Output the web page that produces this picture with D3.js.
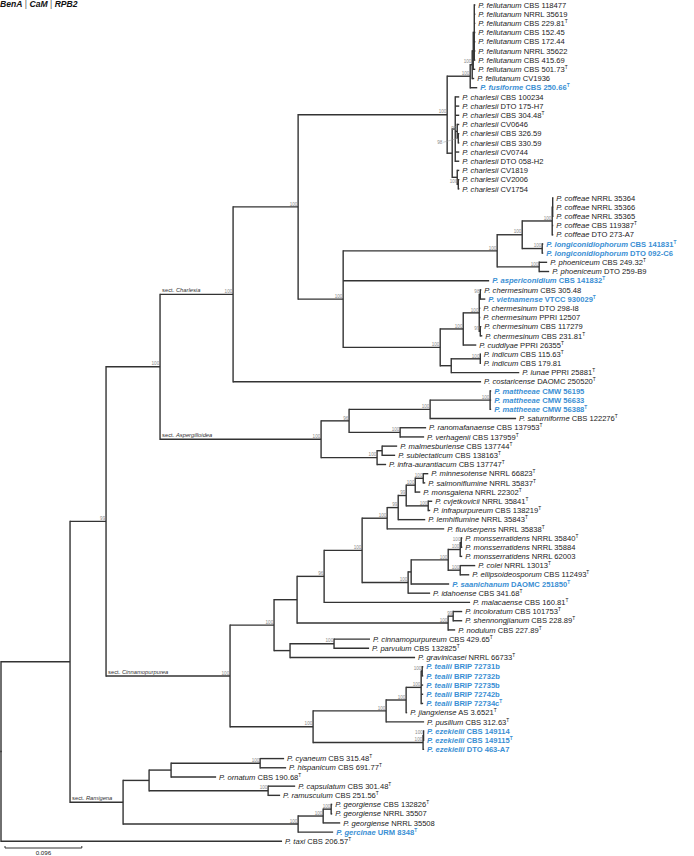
<!DOCTYPE html>
<html><head><meta charset="utf-8">
<script src="https://cdn.jsdelivr.net/npm/d3@7"></script>
<style>body{margin:0;background:#fff}svg{display:block}text{font-family:"Liberation Sans",Arial,sans-serif}</style>
</head><body><svg id="c" width="694" height="856"></svg>
<script>
// ---------- DATA ----------
// taxa: [species, strain, isType, isNewSpecies]
const taxa = [
["fellutanum","CBS 118477",0,0],["fellutanum","NRRL 35619",0,0],["fellutanum","CBS 229.81",1,0],
["fellutanum","CBS 152.45",0,0],["fellutanum","CBS 172.44",0,0],["fellutanum","NRRL 35622",0,0],
["fellutanum","CBS 415.69",0,0],["fellutanum","CBS 501.73",1,0],["fellutanum","CV1936",0,0],
["fusiforme","CBS 250.66",1,1],
["charlesii","CBS 100234",0,0],["charlesii","DTO 175-H7",0,0],["charlesii","CBS 304.48",1,0],
["charlesii","CV0646",0,0],["charlesii","CBS 326.59",0,0],["charlesii","CBS 330.59",0,0],
["charlesii","CV0744",0,0],["charlesii","DTO 058-H2",0,0],["charlesii","CV1819",0,0],
["charlesii","CV2006",0,0],["charlesii","CV1754",0,0],
["coffeae","NRRL 35364",0,0],["coffeae","NRRL 35366",0,0],["coffeae","NRRL 35365",0,0],
["coffeae","CBS 119387",1,0],["coffeae","DTO 273-A7",0,0],
["longiconidiophorum","CBS 141831",1,1],["longiconidiophorum","DTO 092-C6",0,1],
["phoeniceum","CBS 249.32",1,0],["phoeniceum","DTO 259-B9",0,0],
["aspericonidium","CBS 141832",1,1],
["chermesinum","CBS 305.48",0,0],["vietnamense","VTCC 930029",1,1],["chermesinum","DTO 298-I8",0,0],
["chermesinum","PPRI 12507",0,0],["chermesinum","CBS 117279",0,0],["chermesinum","CBS 231.81",1,0],
["cuddlyae","PPRI 26355",1,0],["indicum","CBS 115.63",1,0],["indicum","CBS 179.81",0,0],
["lunae","PPRI 25881",1,0],["costaricense","DAOMC 250520",1,0],
["mattheeae","CMW 56195",0,1],["mattheeae","CMW 56633",0,1],["mattheeae","CMW 56388",1,1],
["saturniforme","CBS 122276",1,0],["ranomafanaense","CBS 137953",1,0],["verhagenii","CBS 137959",1,0],
["malmesburiense","CBS 137744",1,0],["sublectaticum","CBS 138163",1,0],["infra-aurantiacum","CBS 137747",1,0],
["minnesotense","NRRL 66823",1,0],["salmoniflumine","NRRL 35837",1,0],["monsgalena","NRRL 22302",1,0],
["cvjetkovicii","NRRL 35841",1,0],["infrapurpureum","CBS 138219",1,0],["lemhiflumine","NRRL 35843",1,0],
["fluviserpens","NRRL 35838",1,0],["monsserratidens","NRRL 35840",1,0],["monsserratidens","NRRL 35884",0,0],
["monsserratidens","NRRL 62003",0,0],["colei","NRRL 13013",1,0],["ellipsoideosporum","CBS 112493",1,0],
["saanichanum","DAOMC 251850",1,1],["idahoense","CBS 341.68",1,0],["malacaense","CBS 160.81",1,0],
["incoloratum","CBS 101753",1,0],["shennongjianum","CBS 228.89",1,0],["nodulum","CBS 227.89",1,0],
["cinnamopurpureum","CBS 429.65",1,0],["parvulum","CBS 132825",1,0],["gravinicasei","NRRL 66733",1,0],
["tealii","BRIP 72731b",0,1],["tealii","BRIP 72732b",0,1],["tealii","BRIP 72735b",0,1],
["tealii","BRIP 72742b",0,1],["tealii","BRIP 72734c",1,1],["jiangxiense","AS 3.6521",1,0],
["pusillum","CBS 312.63",1,0],["ezekielii","CBS 149114",0,1],["ezekielii","CBS 149115",1,1],
["ezekielii","DTO 463-A7",0,1],["cyaneum","CBS 315.48",1,0],["hispanicum","CBS 691.77",1,0],
["ornatum","CBS 190.68",1,0],["capsulatum","CBS 301.48",1,0],["ramusculum","CBS 251.56",1,0],
["georgiense","CBS 132826",1,0],["georgiense","NRRL 35507",0,0],["georgiense","NRRL 35508",0,0],
["gercinae","URM 8348",1,1],["taxi","CBS 206.57",1,0]
];

// clades in Newick (leaf = index into taxa, 1-based; internal label = bootstrap; :branch length)
const cladeFellutanum = "((((1:0.0013,2:0.0013,3:0.0013,4:0.0013,5:0.0013,6:0.0013,7:0.0013):0.0013,8:0.0025):0.0013,9:0.0025)100:0.0025,10:0.0088)100:0.0288";
const cladeCharlesii = "((11:0.005,12:0.005,13:0.005,(14:0.0025,(15:0.0013,16:0.0013)98:0.0013)99:0.0025,17:0.005,18:0.005):0.0038,(19:0.0025,(20:0.0013,21:0.0013)100:0.0013):0.0063):0.0063";
const cladeCoffeae = "((((22:0.0006,23:0.0006,24:0.0006):0.0006,25:0.0013,26:0.0013)100:0.0375,(27:0.0013,28:0.0013)100:0.025)100:0.0313,(29:0.01,30:0.0125)100:0.0525)100:0.1925";
const cladeChermesinum = "((((32:0.0013,33:0.0063)98:0.0013,34:0.0013,35:0.0013,(36:0.0013,37:0.0025)99:0.0013)100:0.02,38:0.0163)100:0.0288,((39:0.0006,40:0.0006)100:0.0363,41:0.085):0.0138)100:0.1213";
const cladeAspergilloidea = "((((43:0.0013,44:0.0013,45:0.0013)100:0.075,46:0.1075)100:0.1013,(47:0.0325,48:0.03)100:0.0638)96:0.035,((49:0.0188,50:0.0163):0.0063,51:0.0113)100:0.07)100:0.2013";
const cladeMinnesotense = "((((52:0.0063,53:0.0025)100:0.01,54:0.0063)100:0.0113,(55:0.005,56:0.0025)100:0.0275)99:0.01,57:0.0338)99:0.0138";
const cladeMonsserratidens = "(((((59:0.0013,60:0.0013)100:0.0013,61:0.0025)100:0.015,(62:0.0188,63:0.0113)100:0.015)100:0.0463,64:0.0475):0.0038,65:0.0275)100:0.0575";
const cladeIncoloratum = "((67:0.0113,68:0.0113)99:0.0063,69:0.0088)100:0.1888";
const cladeCinnamopurpureum = "((70:0.045,71:0.0438)100:0.055,72:0.1563):0.02";
const cladeTealii = "((((73:0.0013,74:0.0013)100:0.0013,75:0.0025,76:0.0025,77:0.0025)100:0.0188,78:0.0013)100:0.025,79:0.0475)100:0.0913";
const cladeEzekielii = "((80:0.0006,81:0.0006)100:0.0006,82:0.0013)100:0.1375";
const cladeRamigena = "((((83:0.03,84:0.0325)100:0.1113,85:0.0563):0.0275,(86:0.0338,87:0.015)100:0.1488):0.0325,(((88:0.0013,89:0.0013)100:0.01,90:0.0213)100:0.0313,91:0.0438)100:0.2188):0.0663";

const treeNewick =
 "((((((((" + cladeFellutanum + "," + cladeCharlesii + ")100:0.1863,(" + cladeCoffeae + ",31:0.1825," + cladeChermesinum + ")100:0.0563)100:0.0813,42:0.31)100:0.0913," +
 cladeAspergilloidea + ")100:0.0675,((((((" + cladeMinnesotense + ",58:0.0713)100:0.0313," + cladeMonsserratidens + ")100:0.0475,66:0.1825)96:0.0338," +
 cladeIncoloratum + "):0.0288," + cladeCinnamopurpureum + ")100:0.055,(" + cladeTealii + "," + cladeEzekielii + ")100:0.1038)100:0.155)99:0.045," +
 cladeRamigena + "):0.0863,92:0.3513);";

const sections = [["Charlesia",1,42],["Aspergilloidea",43,51],["Cinnamopurpurea",52,82],["Ramigena",83,91]];
const leaderLabels = [[15,16,-16,6]]; // support label drawn off-node with a leader line
const scaleBarValue = 0.096;
const titleParts = ["BenA","CaM","RPB2"];

// ---------- PARSE ----------
function parseNewick(s){
  let i=0;
  function node(){
    const n={};
    if(s[i]==='('){ n.children=[]; i++; n.children.push(node()); while(s[i]===','){i++; n.children.push(node());} i++; }
    let lab=''; while(i<s.length && !':,);'.includes(s[i])) lab+=s[i++];
    if(s[i]===':'){ i++; let b=''; while(i<s.length && !',);'.includes(s[i])) b+=s[i++]; n.len=+b; } else n.len=0;
    if(n.children) n.support=lab; else n.leaf=+lab;
    return n;
  }
  return node();
}
const root = d3.hierarchy(parseNewick(treeNewick), d=>d.children);

// ---------- LAYOUT ----------
const xScale = d3.scaleLinear().domain([0, scaleBarValue]).range([1, 77.8]);
const yScale = d3.scaleLinear().domain([1, taxa.length]).range([5, 841.3]);
root.eachBefore(d => { d.dist = d.parent ? d.parent.dist + d.data.len : 0; d.px = xScale(d.dist); });
root.eachAfter(d => {
  if(d.children){ d.py = (d.children[0].py + d.children[d.children.length-1].py)/2;
    d.minLeaf = d3.min(d.children, c=>c.minLeaf); d.maxLeaf = d3.max(d.children, c=>c.maxLeaf); }
  else { d.py = yScale(d.data.leaf); d.minLeaf = d.maxLeaf = d.data.leaf; }
});
const findClade = (a,b) => root.descendants().find(d => d.minLeaf===a && d.maxLeaf===b && d.children);

// ---------- DRAW ----------
const svg = d3.select("#c");
const ink = "#333", blue = "#3a8fd4";

const g = svg.append("g");
g.selectAll("path.h").data(root.descendants().filter(d=>d.parent)).join("path")
  .attr("d", d => `M${d.parent.px},${d.py}H${d.px}`)
  .attr("stroke", ink).attr("stroke-width", 1.4).attr("fill","none");
g.selectAll("path.v").data(root.descendants().filter(d=>d.children)).join("path")
  .attr("d", d => `M${d.px},${d.children[0].py}V${d.children[d.children.length-1].py}`)
  .attr("stroke", ink).attr("stroke-width", 1.4).attr("fill","none").attr("stroke-linecap","square");

const leaderSet = new Map(leaderLabels.map(l => [findClade(l[0],l[1]), l]));
root.descendants().filter(d=>d.children && d.data.support).forEach(d => {
  const l = leaderSet.get(d);
  if(l){
    svg.append("line").attr("x1", d.px + l[2] + 1).attr("y1", d.py + l[3] - 2).attr("x2", d.px).attr("y2", d.py)
      .attr("stroke","#999").attr("stroke-width",0.5);
    svg.append("text").attr("x", d.px + l[2]).attr("y", d.py + l[3]).attr("text-anchor","end")
      .attr("font-size",4.6).attr("fill","#8a8a8a").text(d.data.support);
  } else {
    svg.append("text").attr("x", d.px - 0.8).attr("y", d.py - 1.3).attr("text-anchor","end")
      .attr("font-size",4.6).attr("fill","#8a8a8a").text(d.data.support);
  }
});

root.leaves().forEach(d => {
  const t = taxa[d.data.leaf-1];
  const isNew = t[3] === 1;
  const txt = svg.append("text").attr("x", d.px + 3).attr("y", d.py + 2.7)
    .attr("font-size", 7.6).attr("fill", isNew ? blue : "#1a1a1a").attr("font-weight", isNew ? "bold" : "normal");
  txt.append("tspan").attr("font-style","italic").text("P. " + t[0]);
  txt.append("tspan").text(" " + t[1]);
  if(t[2]) txt.append("tspan").attr("font-size",4.8).attr("dy",-3).text("T");
});

sections.forEach(s => {
  const n = findClade(s[1], s[2]);
  const t = svg.append("text").attr("x", n.parent.px + 2).attr("y", n.py - 2)
    .attr("font-size", 5.8).attr("fill", "#333");
  t.append("tspan").text("sect. ");
  t.append("tspan").attr("font-style","italic").text(s[0]);
});

const title = svg.append("text").attr("x", 0).attr("y", 7).attr("font-size", 8.6)
  .attr("font-weight","bold").attr("font-style","italic").attr("fill","#111");
titleParts.forEach((p,i) => {
  if(i>0) title.append("tspan").attr("font-style","normal").attr("font-weight","normal").attr("fill","#555").text(" | ");
  title.append("tspan").text(p);
});

const sbX = 5, sbY = 848, sbLen = xScale(scaleBarValue) - xScale(0);
svg.append("path").attr("d", `M${sbX},${sbY-2}V${sbY}H${sbX+sbLen}V${sbY-2}`)
  .attr("stroke", ink).attr("stroke-width", 1).attr("fill","none");
svg.append("text").attr("x", sbX + sbLen/2).attr("y", sbY + 7).attr("text-anchor","middle")
  .attr("font-size", 6.2).attr("fill","#222").text(String(scaleBarValue));
</script></body></html>
